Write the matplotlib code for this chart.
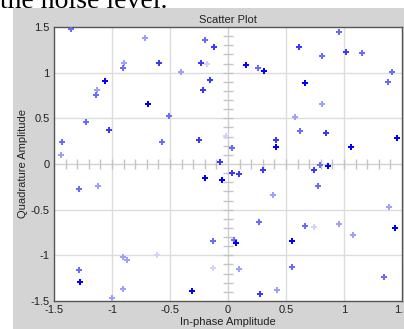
import numpy as np
import matplotlib
matplotlib.use('Agg')
import matplotlib.pyplot as plt
from matplotlib.patches import Rectangle

# in-phase / quadrature values, shade = 0 (dark) .. 4 (very light)
i_vals = [-1.352, -0.715, -0.200, -0.124, 0.608, 0.958, 1.018, 1.159, 0.813, 0.158,
          0.257, 0.311, -0.236, -0.179, -0.597, -0.897, -0.908, -0.404, 1.416, -1.061,
          -0.153, 0.666, 1.378, -1.130, -1.139, -0.216, -0.686, 0.810, -0.510, 0.580,
          -1.226, -1.027, 0.623, 0.845, -0.020, 1.453, 0.418, -0.251, -1.430, -0.571,
          0.418, 1.058, 0.035, -1.436, -0.069, 0.796, 0.859, 0.741, 0.300, 0.035,
          0.092, -0.200, -0.049, 0.776, -1.122, -1.283, 0.389, 1.387, 0.271, 0.958,
          0.663, 0.741, 1.436, 1.081, 0.055, -0.132, 0.548, 0.069, -0.611, -0.908,
          -0.868, 0.554, -0.132, 0.092, -1.283, 1.343, -1.280, -0.902, -0.311, 0.421,
          0.280, -0.997]
q_vals = [1.479, 1.380, 1.360, 1.285, 1.285, 1.449, 1.230, 1.216, 1.180, 1.084,
          1.048, 1.022, 1.110, 1.092, 1.110, 1.103, 1.055, 1.011, 1.004, 0.909,
          0.917, 0.890, 0.898, 0.810, 0.756, 0.810, 0.654, 0.654, 0.526, 0.511,
          0.457, 0.369, 0.361, 0.336, 0.307, 0.281, 0.263, 0.263, 0.238, 0.238,
          0.186, 0.186, 0.175, 0.095, 0.025, -0.011, -0.018, -0.069, -0.069, -0.095,
          -0.106, -0.150, -0.175, -0.237, -0.237, -0.274, -0.336, -0.467, -0.635, -0.654,
          -0.679, -0.687, -0.697, -0.781, -0.829, -0.847, -0.847, -0.869, -0.997, -1.015,
          -1.055, -1.128, -1.139, -1.153, -1.161, -1.234, -1.296, -1.366, -1.391, -1.380,
          -1.427, -1.464]
shade = [2, 3, 2, 1, 1, 2, 1, 2, 2, 0,
         2, 0, 1, 4, 1, 3, 2, 3, 2, 0,
         1, 0, 2, 3, 2, 1, 0, 3, 2, 3,
         2, 1, 2, 1, 4, 0, 1, 1, 2, 2,
         0, 0, 2, 3, 1, 2, 0, 1, 1, 1,
         1, 0, 0, 2, 3, 2, 3, 3, 2, 3,
         2, 4, 0, 3, 2, 2, 0, 0, 4, 3,
         3, 2, 4, 3, 2, 2, 0, 3, 0, 3,
         1, 3]

shade_colors = ['#0000ff', '#3a3aff', '#6a6aff', '#9e9eff', '#d2d2ff']
tick_vals = [-1.5, -1, -0.5, 0, 0.5, 1, 1.5]
tick_labels = ['-1.5', '-1', '-0.5', '0', '0.5', '1', '1.5']

plt.rcParams['font.family'] = ['Liberation Sans', 'DejaVu Sans']

fig = plt.figure(figsize=(4.04, 3.29), dpi=100)
fig.patch.set_facecolor('white')
# gray panel behind the chart
fig.patches.append(Rectangle((13/404, 0), 1 - 13/404, 1 - 8/329, transform=fig.transFigure,
                             facecolor='#d4d4d4', edgecolor='none', zorder=-5))
# cut off text from the page above
fig.text(0.0, 1 - 8/329, 'the noise level.', family='Liberation Serif', fontsize=20,
         va='baseline', ha='left', color='black', zorder=-1)

ax = fig.add_axes([54/404, 28/329, 348/404, 274/329])
ax.set_zorder(2)
ax.set_facecolor('white')
ax.set_xlim(-1.5, 1.5)
ax.set_ylim(-1.5, 1.5)

for v in [-1, -0.5, 0.5, 1]:
    ax.axvline(v, color='#dcdcdc', lw=1, zorder=1)
    ax.axhline(v, color='#dcdcdc', lw=1, zorder=1)
ax.axvline(0, color='#d0d0d0', lw=1, zorder=1)
ax.axhline(0, color='#d0d0d0', lw=1, zorder=1)

# small ticks along the zero lines
mt = np.round(np.arange(-1.4, 1.41, 0.1), 2)
mt = mt[mt != 0]
ax.plot(mt, np.zeros_like(mt), ls='none', marker='|', ms=7, mew=1, color='#c4c4c4', zorder=1)
ax.plot(np.zeros_like(mt), mt, ls='none', marker='_', ms=7, mew=1, color='#c4c4c4', zorder=1)

# one layer per shade, lightest first
ii = np.array(i_vals)
qq = np.array(q_vals)
ss = np.array(shade)
for lvl in [4, 3, 2, 1, 0]:
    m = ss == lvl
    ax.plot(ii[m], qq[m], ls='none', marker='P', ms=4.5, mew=0,
            color=shade_colors[lvl], zorder=3)

ax.set_xticks(tick_vals)
ax.set_xticklabels(tick_labels)
ax.set_yticks(tick_vals)
ax.set_yticklabels(tick_labels)
ax.tick_params(length=0, labelsize=8, colors='#222222', pad=3)
for s in ax.spines.values():
    s.set_color('#555555')
    s.set_linewidth(1)

ax.set_title('Scatter Plot', fontsize=8, color='#222222', pad=3)
ax.set_xlabel('In-phase Amplitude', fontsize=8, color='#222222', labelpad=1)
ax.set_ylabel('Quadrature Amplitude', fontsize=8, color='#222222', labelpad=2)

fig.savefig('out.png', dpi=100, facecolor=fig.get_facecolor())
